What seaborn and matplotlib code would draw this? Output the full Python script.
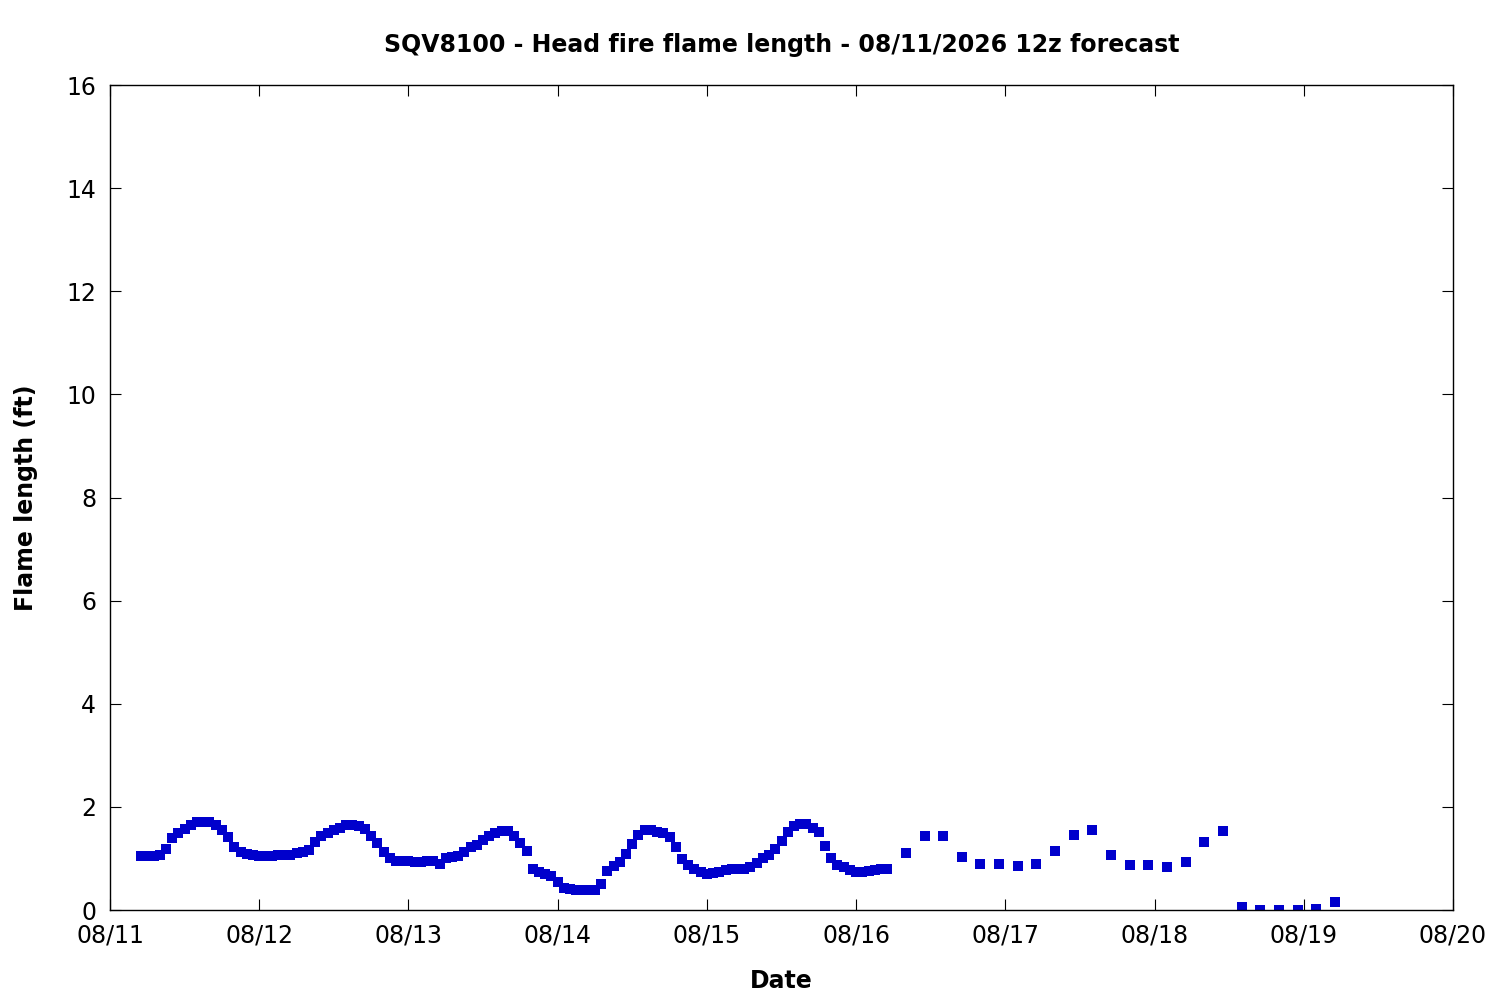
import numpy as np
import pandas as pd
import matplotlib
matplotlib.use("Agg")
import matplotlib.pyplot as plt
import matplotlib.dates as mdates
import seaborn as sns

### data

# hourly values, 08/11 05z .. 08/16 05z
hourly_flame = [
    1.04, 1.04, 1.04, 1.07, 1.19, 1.39, 1.50, 1.58, 1.65, 1.70, 1.70, 1.70,
    1.65, 1.55, 1.41, 1.22, 1.12, 1.09, 1.06, 1.05, 1.05, 1.05, 1.07, 1.07,
    1.07, 1.10, 1.12, 1.17, 1.31, 1.43, 1.50, 1.56, 1.60, 1.64, 1.65, 1.63,
    1.58, 1.43, 1.29, 1.13, 1.01, 0.96, 0.95, 0.95, 0.94, 0.93, 0.95, 0.96,
    0.90, 1.00, 1.03, 1.05, 1.13, 1.22, 1.27, 1.36, 1.43, 1.50, 1.53, 1.53,
    1.43, 1.29, 1.14, 0.79, 0.73, 0.69, 0.65, 0.54, 0.42, 0.40, 0.39, 0.39,
    0.39, 0.39, 0.50, 0.76, 0.85, 0.94, 1.09, 1.28, 1.45, 1.55, 1.56, 1.52,
    1.49, 1.42, 1.22, 0.99, 0.87, 0.79, 0.73, 0.69, 0.71, 0.74, 0.78, 0.79,
    0.79, 0.80, 0.83, 0.92, 1.00, 1.07, 1.18, 1.34, 1.52, 1.62, 1.67, 1.67,
    1.60, 1.51, 1.24, 1.00, 0.88, 0.84, 0.78, 0.73, 0.73, 0.76, 0.78, 0.80,
    0.80,
]

# 3-hourly values, 08/16 08z .. 08/19 05z
three_hourly_flame = [
    1.10, 1.43, 1.43, 1.02, 0.89, 0.90, 0.85, 0.89, 1.14, 1.45, 1.56, 1.06,
    0.87, 0.87, 0.83, 0.93, 1.31, 1.54, 0.05, 0.00, 0.00, 0.00, 0.02, 0.15,
]

hourly_times = pd.date_range("2026-08-11 05:00", periods=len(hourly_flame), freq="h")
three_hourly_times = pd.date_range("2026-08-16 08:00", periods=len(three_hourly_flame), freq="3h")

day_ticks = pd.date_range("2026-08-11", "2026-08-20", freq="D")

df = pd.DataFrame({
    "Date": list(hourly_times) + list(three_hourly_times),
    "Flame": hourly_flame + three_hourly_flame,
})

### plot

sns.set_style("ticks")
plt.rcParams["font.family"] = ["DejaVu Sans"]
plt.rcParams["text.color"] = "black"
plt.rcParams["axes.labelcolor"] = "black"

fig = plt.figure(figsize=(15, 10), dpi=100)
ax = fig.add_axes([110 / 1500, 90 / 1000, 1343 / 1500, 825 / 1000])

sns.scatterplot(data=df, x="Date", y="Flame", marker="s", s=44,
                color="#0000cc", linewidth=0, ax=ax)

ax.set_xlim(day_ticks[0], day_ticks[-1])
ax.set_ylim(0, 16)
ax.set_yticks(np.arange(0, 17, 2))
ax.set_xticks(day_ticks)
ax.xaxis.set_major_formatter(mdates.DateFormatter("%m/%d"))

for side in ["top", "right", "left", "bottom"]:
    ax.spines[side].set_visible(True)
    ax.spines[side].set_linewidth(1.0)
    ax.spines[side].set_color("black")

ax.tick_params(axis="both", direction="in", length=8, width=0.8,
               top=True, right=True, labelsize=17, colors="black")
ax.tick_params(axis="x", pad=10)
ax.tick_params(axis="y", pad=10)

ax.set_xlabel("Date", fontsize=17, fontweight="bold", labelpad=15, color="black")
ax.set_ylabel("Flame length (ft)", fontsize=17, fontweight="bold", labelpad=20, color="black")
ax.set_title("SQV8100 - Head fire flame length - 08/11/2026 12z forecast",
             fontsize=17, fontweight="bold", pad=24, color="black")

fig.savefig("out.png", dpi=100)
